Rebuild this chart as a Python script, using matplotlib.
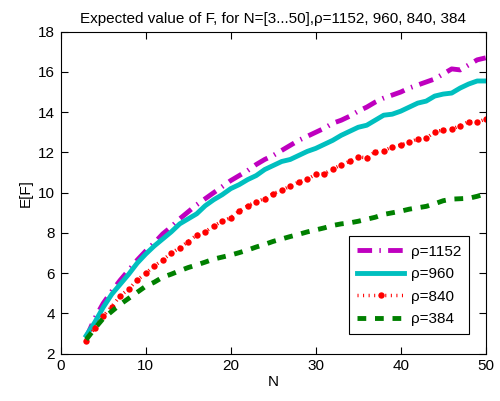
import matplotlib
matplotlib.use('Agg')
import matplotlib.pyplot as plt

plt.rcParams['font.family'] = ['Liberation Sans', 'DejaVu Sans']

N = list(range(3, 51))
labels = ['ρ=1152', 'ρ=960', 'ρ=840', 'ρ=384']

ef_1152 = [2.8, 3.75, 4.5, 5.1, 5.65, 6.15, 6.65, 7.1, 7.5, 7.95,
           8.3, 8.7, 9.05, 9.4, 9.7, 10.0, 10.3, 10.6, 10.85, 11.1,
           11.4, 11.65, 11.85, 12.1, 12.35, 12.6, 12.8, 13.0, 13.2, 13.45,
           13.6, 13.8, 14.05, 14.25, 14.5, 14.7, 14.85, 15.0, 15.2, 15.35,
           15.5, 15.65, 15.9, 16.15, 16.1, 16.35, 16.6, 16.7]
ef_960 = [2.9, 3.55, 4.3, 4.95, 5.45, 5.95, 6.5, 6.95, 7.35, 7.7,
          8.05, 8.45, 8.7, 8.95, 9.35, 9.65, 9.9, 10.2, 10.4, 10.65,
          10.85, 11.15, 11.35, 11.55, 11.65, 11.85, 12.05, 12.2, 12.4, 12.6,
          12.85, 13.05, 13.25, 13.35, 13.6, 13.85, 13.9, 14.05, 14.25, 14.45,
          14.55, 14.8, 14.9, 14.95, 15.2, 15.4, 15.55, 15.55]
ef_840 = [2.65, 3.29, 3.87, 4.34, 4.87, 5.21, 5.66, 6.0, 6.36, 6.66,
          6.99, 7.27, 7.57, 7.9, 8.06, 8.35, 8.59, 8.76, 9.09, 9.35,
          9.55, 9.71, 9.95, 10.12, 10.33, 10.53, 10.67, 10.91, 10.94, 11.18,
          11.38, 11.56, 11.77, 11.74, 12.03, 12.09, 12.27, 12.37, 12.5, 12.67,
          12.7, 13.03, 13.11, 13.16, 13.33, 13.53, 13.5, 13.66]
ef_384 = [2.7, 3.25, 3.75, 4.1, 4.45, 4.75, 5.05, 5.35, 5.55, 5.8,
          5.95, 6.12, 6.28, 6.41, 6.55, 6.7, 6.8, 6.9, 7.02, 7.15,
          7.3, 7.43, 7.58, 7.7, 7.82, 7.93, 8.05, 8.15, 8.25, 8.37,
          8.45, 8.5, 8.58, 8.68, 8.78, 8.92, 9.0, 9.08, 9.18, 9.25,
          9.32, 9.45, 9.6, 9.68, 9.7, 9.72, 9.82, 9.95]

x_ticks = [0, 10, 20, 30, 40, 50]
y_ticks = [2, 4, 6, 8, 10, 12, 14, 16, 18]

fs = 11
fig = plt.figure(figsize=(5, 4.01), dpi=100)
ax = fig.add_axes([0.1214, 0.118, 0.85, 0.803])

lw = 3.5
ax.plot(N, ef_1152, color='#BF00BF', lw=lw, dashes=(3.0, 1.5, 0.3, 1.5),
        label=labels[0])
ax.plot(N, ef_960, color='#00BFBF', lw=lw, ls='-', label=labels[1])
ax.plot(N, ef_840, color='#FF0000', lw=2.5, dashes=(0.3, 1.3),
        marker='o', ms=4.6, mew=0, label=labels[2])
ax.plot(N, ef_384, color='#008000', lw=lw, dashes=(1.8, 1.8), label=labels[3])

ax.set_xlim(0, 50)
ax.set_ylim(2, 18)
ax.set_xticks(x_ticks)
ax.set_yticks(y_ticks)
ax.tick_params(direction='in', top=True, right=True, length=5, width=0.8,
               labelsize=fs, pad=4, colors='black')
for s in ax.spines.values():
    s.set_linewidth(0.8)
    s.set_color('black')

ax.set_title('Expected value of F, for N=[3...50],ρ=1152, 960, 840, 384',
             fontsize=fs, pad=6)
ax.set_xlabel('N', fontsize=fs, labelpad=1)
ax.set_ylabel('E[F]', fontsize=fs, labelpad=4)

leg = ax.legend(loc='lower right', bbox_to_anchor=(0.9614, 0.060),
                borderaxespad=0, fontsize=fs, handlelength=3.1,
                handletextpad=0.4, labelspacing=0.55, borderpad=0.55,
                fancybox=False, framealpha=1, edgecolor='black')
leg.get_frame().set_linewidth(0.8)

fig.savefig('out.png', dpi=100)
